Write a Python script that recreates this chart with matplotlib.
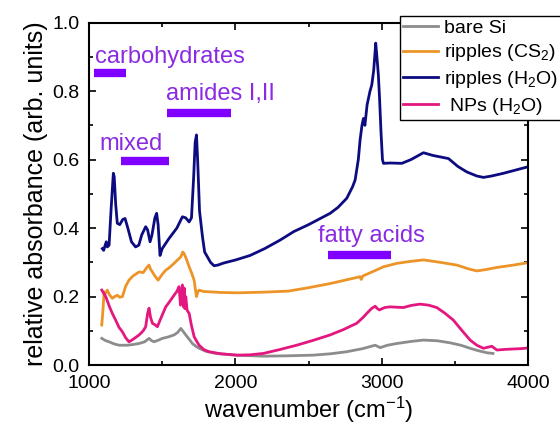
import matplotlib
matplotlib.use("Agg")
import matplotlib.pyplot as plt
from matplotlib.ticker import MultipleLocator

plt.rcParams['font.family'] = ['Liberation Sans', 'DejaVu Sans']
plt.rcParams['mathtext.default'] = 'regular'

# -----------------------------------------------------------------
# data (wavenumber in cm^-1, absorbance)
# -----------------------------------------------------------------
si_x = [1087, 1110, 1137, 1170, 1205, 1260, 1300, 1342, 1380, 1410, 1425, 1444,
        1470, 1501, 1540, 1581, 1605, 1627, 1640, 1661, 1685, 1706, 1730, 1752,
        1800, 1866, 2000, 2191, 2350, 2533, 2650, 2761, 2870, 2955, 2989, 3040,
        3103, 3200, 3285, 3380, 3467, 3540, 3604, 3660, 3718, 3760]
si_y = [0.078, 0.072, 0.068, 0.062, 0.058, 0.058, 0.060, 0.063, 0.068, 0.078,
        0.072, 0.068, 0.072, 0.078, 0.082, 0.088, 0.095, 0.107, 0.100, 0.088,
        0.075, 0.063, 0.055, 0.049, 0.040, 0.034, 0.029, 0.026, 0.027, 0.029,
        0.033, 0.039, 0.048, 0.058, 0.051, 0.058, 0.063, 0.069, 0.073, 0.071,
        0.065, 0.058, 0.049, 0.042, 0.036, 0.034]

cs2_x = [1087, 1095, 1103, 1115, 1125, 1140, 1159, 1175, 1193, 1210, 1228, 1250,
         1273, 1300, 1342, 1370, 1395, 1410, 1420, 1433, 1450, 1472, 1500, 1524,
         1550, 1581, 1600, 1627, 1640, 1649, 1665, 1684, 1700, 1718, 1727, 1734,
         1745, 1752, 1780, 1820, 1900, 2014, 2200, 2362, 2500, 2647, 2750, 2852,
         2860, 2870, 2950, 3012, 3103, 3200, 3285, 3400, 3513, 3600, 3650, 3700,
         3787, 3900, 4000]
cs2_y = [0.117, 0.160, 0.214, 0.210, 0.219, 0.205, 0.195, 0.200, 0.204, 0.198,
         0.200, 0.230, 0.248, 0.260, 0.272, 0.270, 0.285, 0.292, 0.280, 0.272,
         0.260, 0.248, 0.265, 0.277, 0.285, 0.297, 0.305, 0.316, 0.330, 0.326,
         0.310, 0.287, 0.270, 0.248, 0.220, 0.200, 0.215, 0.219, 0.215, 0.214,
         0.212, 0.211, 0.213, 0.216, 0.226, 0.238, 0.248, 0.258, 0.250, 0.260,
         0.275, 0.287, 0.297, 0.303, 0.307, 0.300, 0.292, 0.280, 0.275, 0.278,
         0.285, 0.292, 0.299]

h2o_x = [1091, 1100, 1110, 1118, 1125, 1137, 1150, 1166, 1172, 1182, 1193, 1210,
         1230, 1246, 1265, 1290, 1318, 1340, 1360, 1387, 1400, 1417, 1430, 1450,
         1462, 1472, 1485, 1500, 1547, 1600, 1638, 1660, 1684, 1700, 1715, 1725,
         1734, 1742, 1755, 1775, 1790, 1809, 1830, 1854, 1880, 1920, 2002, 2100,
         2200, 2306, 2400, 2500, 2647, 2700, 2761, 2800, 2818, 2840, 2852, 2865,
         2875, 2885, 2900, 2920, 2932, 2945, 2959, 2967, 2977, 2985, 2995, 3005,
         3012, 3060, 3137, 3200, 3285, 3350, 3456, 3520, 3581, 3650, 3695, 3750,
         3832, 3920, 4000]
h2o_y = [0.340, 0.335, 0.350, 0.360, 0.345, 0.350, 0.450, 0.560, 0.550, 0.470,
         0.414, 0.410, 0.425, 0.428, 0.400, 0.360, 0.345, 0.350, 0.380, 0.404,
         0.395, 0.360, 0.380, 0.430, 0.443, 0.410, 0.320, 0.340, 0.370, 0.400,
         0.433, 0.430, 0.418, 0.430, 0.550, 0.650, 0.672, 0.600, 0.450, 0.375,
         0.330, 0.316, 0.300, 0.290, 0.292, 0.298, 0.307, 0.320, 0.340, 0.365,
         0.390, 0.410, 0.443, 0.460, 0.487, 0.520, 0.540, 0.600, 0.657, 0.700,
         0.720, 0.700, 0.760, 0.800, 0.818, 0.860, 0.940, 0.900, 0.847, 0.780,
         0.680, 0.600, 0.589, 0.590, 0.589, 0.600, 0.620, 0.612, 0.603, 0.580,
         0.564, 0.552, 0.548, 0.552, 0.560, 0.570, 0.579]

nps_x = [1087, 1100, 1114, 1140, 1160, 1182, 1205, 1228, 1250, 1273, 1300, 1342,
         1370, 1387, 1400, 1410, 1420, 1433, 1450, 1467, 1490, 1524, 1550, 1581,
         1600, 1615, 1625, 1638, 1645, 1650, 1655, 1661, 1670, 1684, 1700, 1718,
         1735, 1752, 1785, 1820, 1900, 2014, 2100, 2191, 2300, 2419, 2530, 2647,
         2740, 2829, 2870, 2898, 2930, 2955, 2970, 2984, 3020, 3057, 3148, 3200,
         3262, 3320, 3376, 3430, 3490, 3550, 3604, 3650, 3695, 3752, 3787, 3850,
         3950, 4000]
nps_y = [0.219, 0.210, 0.200, 0.170, 0.150, 0.131, 0.110, 0.097, 0.080, 0.068,
         0.075, 0.088, 0.100, 0.112, 0.150, 0.166, 0.140, 0.122, 0.118, 0.112,
         0.136, 0.170, 0.185, 0.204, 0.215, 0.229, 0.175, 0.234, 0.170, 0.225,
         0.165, 0.200, 0.160, 0.151, 0.115, 0.083, 0.070, 0.058, 0.045, 0.039,
         0.033, 0.029, 0.030, 0.034, 0.045, 0.058, 0.072, 0.088, 0.104, 0.122,
         0.138, 0.151, 0.165, 0.172, 0.165, 0.161, 0.168, 0.170, 0.168, 0.174,
         0.178, 0.175, 0.168, 0.152, 0.131, 0.100, 0.073, 0.058, 0.049, 0.055,
         0.044, 0.046, 0.048, 0.050]

# band annotations: label, bar start, bar end, bar level, text x, text y
band_labels = ['carbohydrates', 'mixed', 'amides I,II', 'fatty acids']
band_start = [1034, 1219, 1533, 2634]
band_end = [1253, 1547, 1970, 3064]
band_level = [0.853, 0.597, 0.737, 0.320]
text_x = [1041, 1068, 1526, 2565]
text_y = [0.882, 0.628, 0.774, 0.359]

# -----------------------------------------------------------------
fig = plt.figure(figsize=(5.6, 4.26), dpi=100)
ax = fig.add_axes([0.159, 0.143, 0.784, 0.804])

ax.plot(si_x, si_y, color='#8c8c8c', lw=2, label='bare Si')
ax.plot(cs2_x, cs2_y, color='#ec9428', lw=2, label='ripples (CS$_2$)')
ax.plot(h2o_x, h2o_y, color='#0c0c80', lw=2, label='ripples (H$_2$O)')
ax.plot(nps_x, nps_y, color='#e3177f', lw=2, label=' NPs (H$_2$O)')

for lab, x0, x1, lev, tx, ty in zip(band_labels, band_start, band_end,
                                     band_level, text_x, text_y):
    ax.plot([x0, x1], [lev, lev], color='#8000ff', lw=6, solid_capstyle='butt')
    ax.text(tx, ty, lab, color='#8a2be2', fontsize=17, ha='left', va='baseline')

ax.set_xlim(1000, 4000)
ax.set_ylim(0, 1.0)
ax.xaxis.set_major_locator(MultipleLocator(1000))
ax.xaxis.set_minor_locator(MultipleLocator(500))
ax.yaxis.set_major_locator(MultipleLocator(0.2))
ax.yaxis.set_minor_locator(MultipleLocator(0.1))
ax.yaxis.set_major_formatter(plt.FormatStrFormatter('%.1f'))
ax.tick_params(which='both', direction='in', top=True, right=True,
               labelsize=14, width=1.2)
ax.tick_params(which='major', length=5, pad=7)
ax.tick_params(which='minor', length=3)
for s in ax.spines.values():
    s.set_linewidth(1.5)

ax.set_xlabel('wavenumber (cm$^{-1}$)', fontsize=17, labelpad=2)
ax.set_ylabel('relative absorbance (arb. units)', fontsize=18, labelpad=3)

leg = ax.legend(loc='upper left', bbox_to_anchor=(400 / 560, 1 - 16 / 426),
                bbox_transform=fig.transFigure, borderaxespad=0, borderpad=0.15,
                fontsize=14, handlelength=1.8, handletextpad=0.3,
                labelspacing=0.3, fancybox=False, framealpha=1)
leg.get_frame().set_edgecolor('black')
leg.get_frame().set_linewidth(1.0)

fig.savefig('out.png', dpi=100)
